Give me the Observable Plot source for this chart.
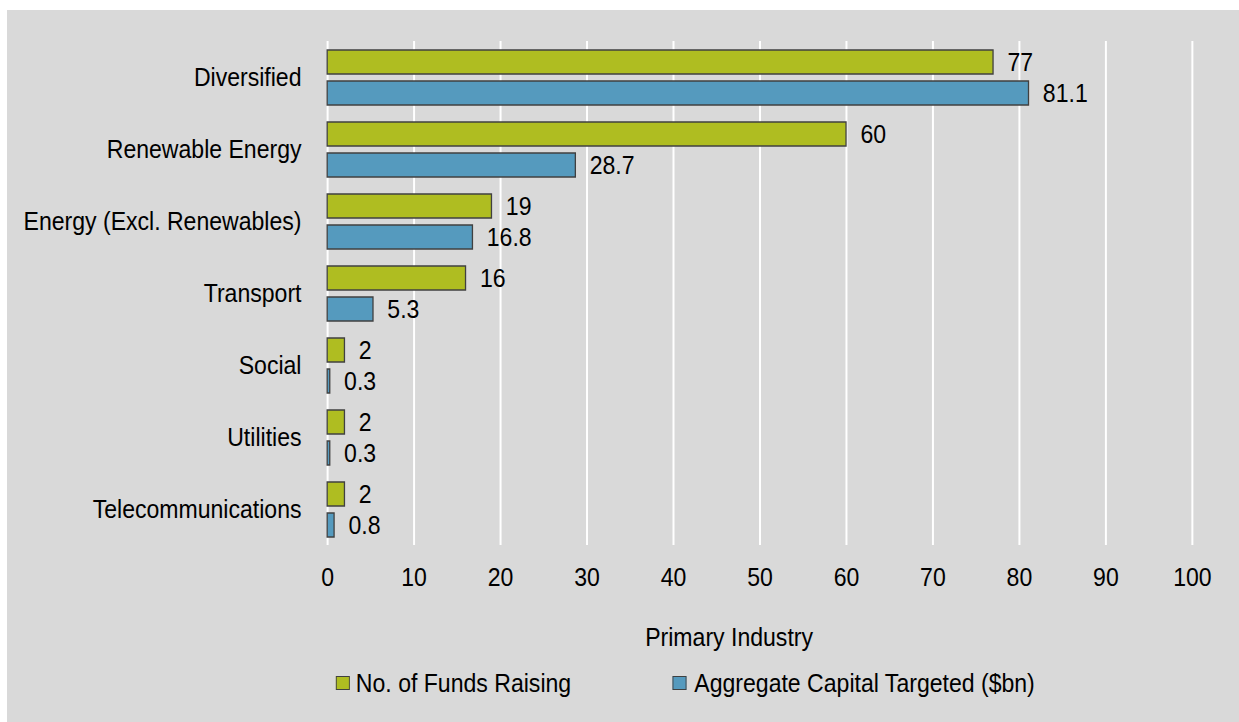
<!DOCTYPE html>
<html>
<head>
<meta charset="utf-8">
<script src="https://cdn.jsdelivr.net/npm/d3@7"></script>
<script src="https://cdn.jsdelivr.net/npm/@observablehq/plot@0.6"></script>
<style>
  html, body { margin: 0; padding: 0; background: #ffffff; }
  #panel { position: absolute; left: 7px; top: 10px; width: 1232px; height: 712px; background: #d9d9d9; overflow: hidden; }
  #wrap { position: absolute; left: 0; top: 0; width: 1416px; height: 712px; transform: scaleX(0.87); transform-origin: 0 0;
          font-family: 'Liberation Sans', Arial, sans-serif; font-size: 26.5px; color: #000; }
  #chart { position: absolute; left: 0; top: 0; }
  .lbl { position: absolute; line-height: 26px; white-space: nowrap; }
  .sw { position: absolute; width: 14px; height: 12px; border: 1.5px solid #404040; }
</style>
</head>
<body>
<div id="panel"><div id="wrap"><div id="chart"></div>
  <div class="lbl" id="xlabel" style="left:630px; width:400px; top:614px; text-align:center;"></div>
  <div class="sw" id="sw0" style="left:378px; top:666px;"></div>
  <div class="lbl" id="lg0" style="left:401px; top:660px;"></div>
  <div class="sw" id="sw1" style="left:765px; top:666px;"></div>
  <div class="lbl" id="lg1" style="left:790px; top:660px;"></div>
</div></div>
<script>
const industries = ["Diversified", "Renewable Energy", "Energy (Excl. Renewables)", "Transport", "Social", "Utilities", "Telecommunications"];
const seriesNames = ["No. of Funds Raising", "Aggregate Capital Targeted ($bn)"];
const fundsRaising = [77, 60, 19, 16, 2, 2, 2];
const capitalTargeted = [81.1, 28.7, 16.8, 5.3, 0.3, 0.3, 0.8];
const xTicks = [0, 10, 20, 30, 40, 50, 60, 70, 80, 90, 100];
const seriesColors = ["#afbd21", "#559abe"];
const axisTitle = "Primary Industry";

const rows = [];
industries.forEach((ind, i) => {
  rows.push({industry: ind, series: seriesNames[0], value: fundsRaising[i], label: String(fundsRaising[i])});
  rows.push({industry: ind, series: seriesNames[1], value: capitalTargeted[i], label: capitalTargeted[i].toFixed(1)});
});

const chart = Plot.plot({
  width: 1416,
  height: 600,
  marginTop: 31,
  marginBottom: 65,
  marginLeft: 368,
  marginRight: 54,
  style: {fontFamily: "'Liberation Sans', Arial, sans-serif", fontSize: "26.5px", background: "transparent", color: "#000"},
  facet: {marginTop: 0, marginBottom: 0, marginLeft: 0, marginRight: 0},
  x: {domain: [0, 100], ticks: xTicks, label: null},
  y: {domain: seriesNames, paddingInner: 0.226, paddingOuter: 0.274, axis: null},
  fy: {domain: industries, padding: 0, label: null, axis: null},
  color: {domain: seriesNames, range: seriesColors},
  marks: [
    Plot.gridX(xTicks, {stroke: "#ffffff", strokeOpacity: 1, strokeWidth: 2.3}),
    Plot.barX(rows, {x: "value", y: "series", fy: "industry", fill: "series", stroke: "#404040", strokeWidth: 1.5}),
    Plot.text(rows, {x: "value", y: "series", fy: "industry", text: "label", textAnchor: "start", dx: 16, fill: "#000", fontSize: 26.5}),
    Plot.axisFy({anchor: "left", tickSize: 0, tickPadding: 30, fontSize: 26.5, label: null}),
    Plot.axisX(xTicks, {anchor: "bottom", tickSize: 0, tickPadding: 22, fontSize: 26.5, label: null})
  ]
});
document.getElementById("chart").appendChild(chart);
document.getElementById("xlabel").textContent = axisTitle;
document.getElementById("lg0").textContent = seriesNames[0];
document.getElementById("lg1").textContent = seriesNames[1];
document.getElementById("sw0").style.background = seriesColors[0];
document.getElementById("sw1").style.background = seriesColors[1];
</script>
</body>
</html>
